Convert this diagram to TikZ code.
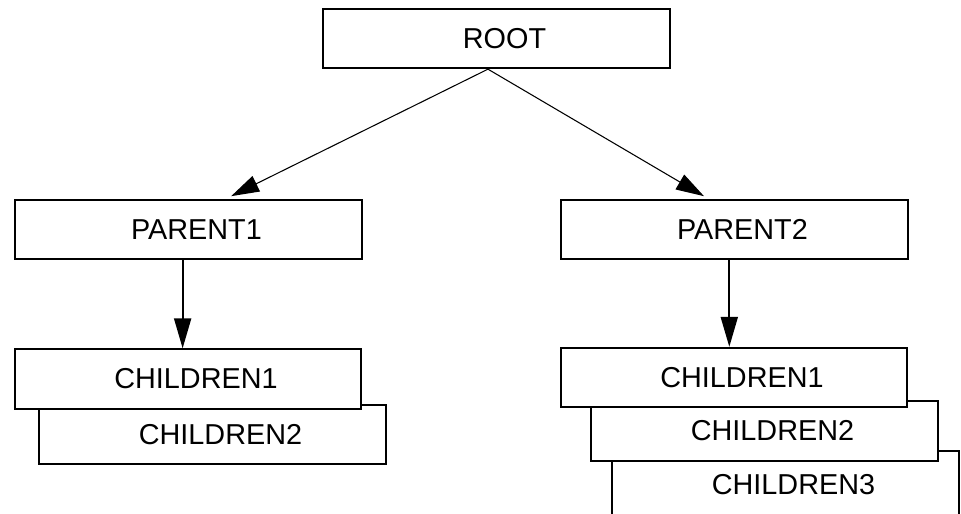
\documentclass[tikz,border=0pt]{standalone}
\usepackage{fontspec}
\setmainfont{Liberation Sans}
\usetikzlibrary{arrows.meta}
\tikzset{
  unit/.style={
    draw=black, line width=1.5pt, fill=white,
    minimum width=260pt, minimum height=44.5pt, inner sep=0pt,
    font=\fontsize{21.6}{26}\selectfont,
    execute at begin node={\hspace*{12pt}}
  },
  link/.style={-{Triangle[length=22.5pt,width=12.75pt]}, line width=1.5pt, draw=black},
  thinlink/.style={-{Triangle[length=21pt,width=12.75pt]}, line width=0.8pt, draw=black}
}
\begin{document}
\begin{tikzpicture}[x=0.75pt,y=-0.75pt]
    \fill[white] (0,0) rectangle (961,514);
    \useasboundingbox (0,0) rectangle (961,514);
    \clip (0,0) rectangle (961,514);
    \node[unit] (root) at (496.5,38.5) {ROOT};
    \node[unit] (parent1) at (188.5,229.5) {PARENT1};
    \node[unit] (parent2) at (734.5,229.5) {PARENT2};
    % stacked children, back ones first
    \node[unit] (leftchild2) at (212.5,434.5) {CHILDREN2};
    \node[unit] (leftchild1) at (188,379) {CHILDREN1};
    \node[unit,minimum height=50pt] (rightchild3) at (785.5,484.5) {CHILDREN3};
    \node[unit] (rightchild2) at (764.5,431) {CHILDREN2};
    \node[unit] (rightchild1) at (734,377.5) {CHILDREN1};
    \draw[thinlink] ([xshift=-6.4pt]root.south) -- ([xshift=32pt,yshift=2pt]parent1.north);
    \draw[thinlink] ([xshift=-6.4pt]root.south) -- ([xshift=-22.9pt,yshift=2pt]parent2.north);
    \draw[link] ([xshift=-4.4pt]parent1.south) -- ([xshift=-4.4pt]parent1.south |- leftchild1.north);
    \draw[link] ([xshift=-3.9pt]parent2.south) -- ([xshift=-3.9pt]parent2.south |- rightchild1.north);
  \end{tikzpicture}
\end{document}
